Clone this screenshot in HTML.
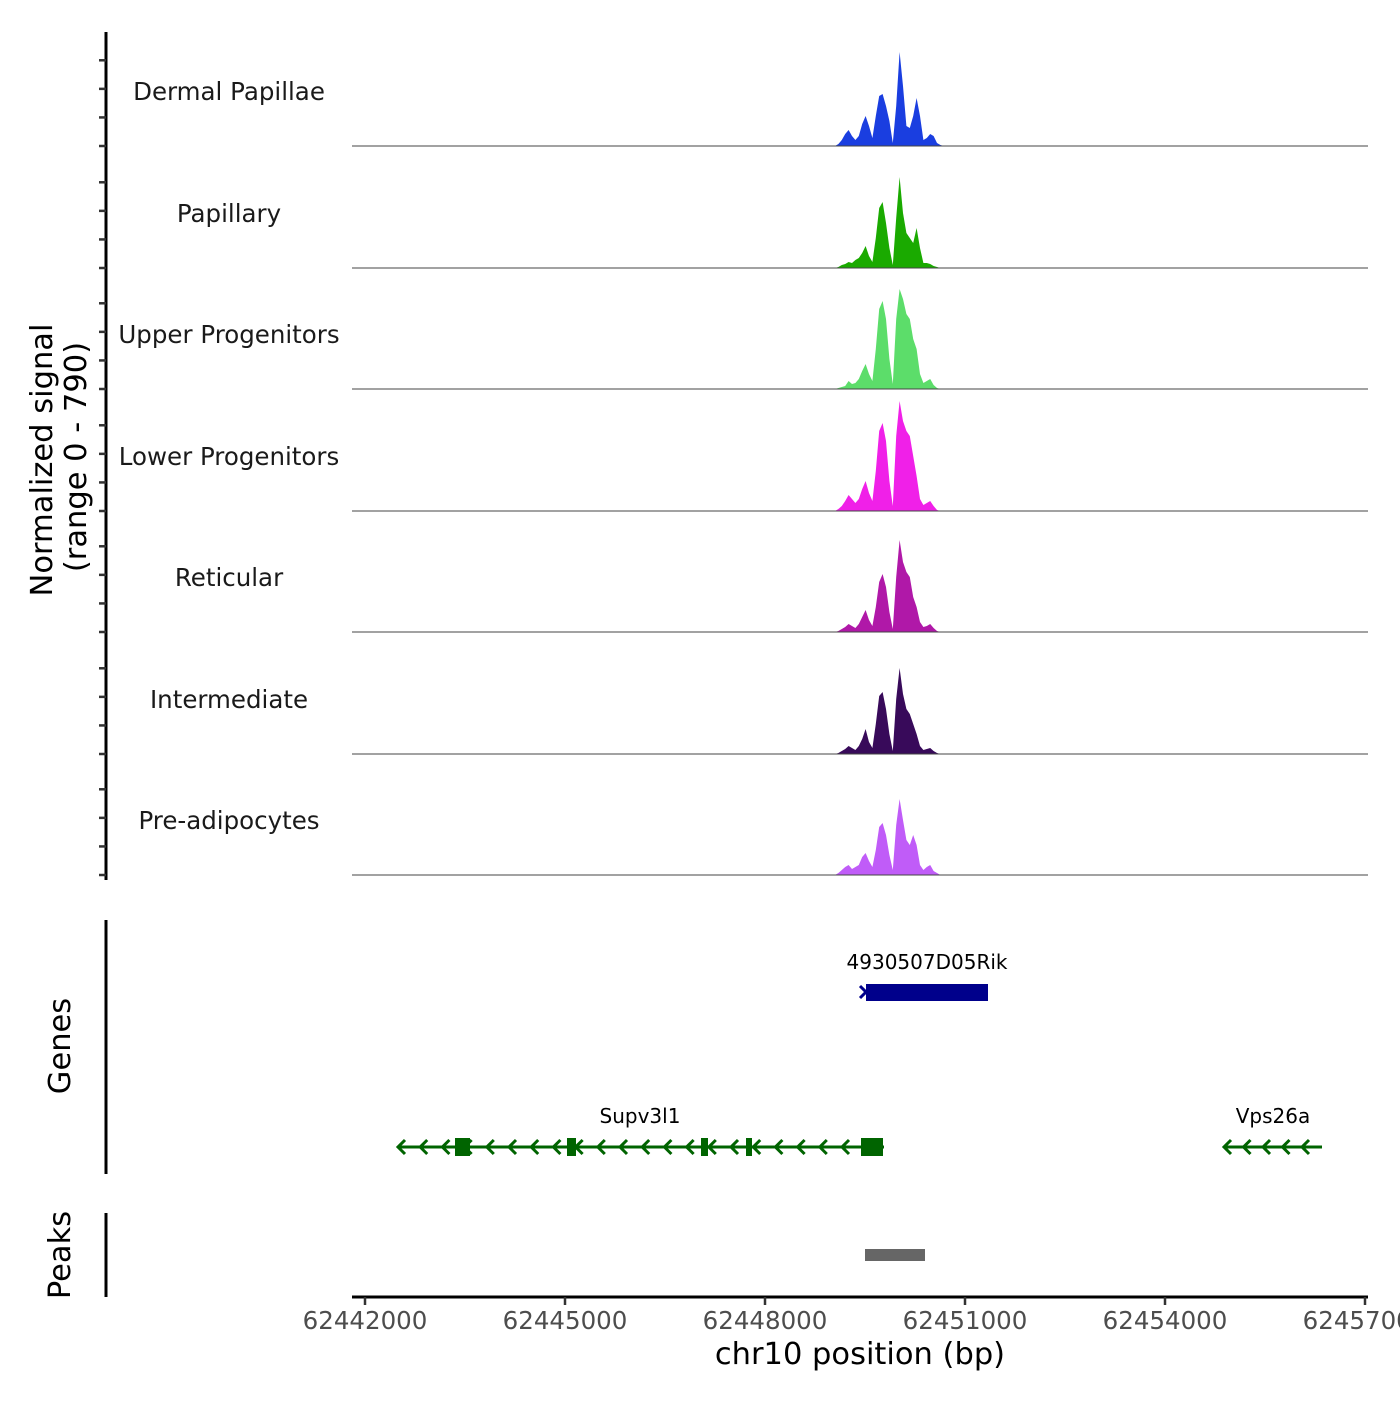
<!DOCTYPE html>
<html><head><meta charset="utf-8"><style>
body{margin:0;background:#fff}
svg text{font-family:"DejaVu Sans","Liberation Sans",sans-serif}
</style></head><body>
<svg id="chart" width="1400" height="1400" xmlns="http://www.w3.org/2000/svg"></svg>
<script>
const trackNames=["Dermal Papillae","Papillary","Upper Progenitors","Lower Progenitors","Reticular","Intermediate","Pre-adipocytes"];
const trackColors=["#1a3ee0","#1aaa00","#5cdd6a","#f020e8","#b018a8","#380a5a","#c05cf8"];
const sampleStart=62449050;
const sampleStep=51;
const sig1=[0,14,42,84,112,70,42,70,154,210,140,56,210,350,364,280,175,21,280,658,420,140,126,210,336,210,42,56,84,70,21,7,0];
const sig2=[0,7,21,28,42,35,56,70,105,154,84,42,210,420,462,315,140,21,350,637,385,245,210,175,280,140,35,35,28,14,7,0,0];
const sig3=[0,7,14,21,56,35,42,70,126,175,105,56,280,560,616,490,210,35,490,700,630,525,490,350,280,105,42,56,70,28,7,0,0];
const sig4=[0,14,35,70,112,84,56,84,154,210,126,70,280,560,616,490,210,35,525,770,630,560,525,385,245,84,42,56,70,35,7,0,0];
const sig5=[0,7,21,35,56,42,28,56,105,154,84,42,175,350,406,315,140,21,385,644,490,420,385,245,175,70,35,42,56,28,7,0,0];
const sig6=[0,7,21,35,56,42,28,56,105,175,84,42,210,406,434,315,140,21,385,602,420,315,280,210,140,56,28,35,42,21,7,0,0];
const sig7=[0,14,35,56,70,42,56,70,126,154,98,56,175,336,364,280,140,35,350,532,385,245,210,280,210,70,35,56,70,28,14,0,0];
const signals=[sig1,sig2,sig3,sig4,sig5,sig6,sig7];
const xTicks=[62442000,62445000,62448000,62451000,62454000,62457000];
const yTicks=[0,200,400,600];

const NS="http://www.w3.org/2000/svg";
const svg=document.getElementById("chart");
function el(t,a,txt){const e=document.createElementNS(NS,t);for(const k in a)e.setAttribute(k,a[k]);if(txt!==undefined)e.textContent=txt;svg.appendChild(e);return e;}
const X0=352,X1=1368,D0=62441805,D1=62457045;
function xs(bp){return X0+(bp-D0)*(X1-X0)/(D1-D0);}
const baselines=[146,268,389,511,632,754,875];
function ys(v,b){return b-v/7;}

let e=el("line",{x1:106,y1:32,x2:106,y2:880,stroke:"#000","stroke-width":3});

baselines.forEach((b,ti)=>{
  yTicks.forEach(t=>{
    const y=ys(t,b);
    let k=el("line",{x1:99,y1:y,x2:106,y2:y,stroke:"#333","stroke-width":2.5});
    
  });
  const s=signals[ti];
  let d="M"+xs(sampleStart)+","+b;
  s.forEach((v,i)=>{d+=" L"+xs(sampleStart+i*sampleStep).toFixed(1)+","+ys(v,b).toFixed(1);});
  d+=" L"+xs(sampleStart+(s.length-1)*sampleStep).toFixed(1)+","+b+" Z";
  let p=el("path",{d:d,fill:trackColors[ti]});
  
  let bl=el("line",{x1:X0,y1:b,x2:X1,y2:b,stroke:"#444","stroke-width":1});
  
  let lb=el("text",{x:229,y:b-46,"text-anchor":"middle","font-size":24.5,fill:"#1a1a1a"},trackNames[ti]);
  
});
e=el("text",{transform:"translate(52,460) rotate(-90)","text-anchor":"middle","font-size":30.5,fill:"#000"},"Normalized signal");

e=el("text",{transform:"translate(86,457) rotate(-90)","text-anchor":"middle","font-size":30.5,fill:"#000"},"(range 0 - 790)");


e=el("line",{x1:106,y1:920,x2:106,y2:1174,stroke:"#000","stroke-width":3});

e=el("text",{transform:"translate(70,1046) rotate(-90)","text-anchor":"middle","font-size":30.5},"Genes");

e=el("rect",{x:866,y:984,width:122,height:17,fill:"#00008b"});

e=el("path",{d:"M860,986 L866,992 L860,998",stroke:"#00008b","stroke-width":3,fill:"none"});

e=el("text",{x:927,y:969,"text-anchor":"middle","font-size":20},"4930507D05Rik");


const G="#006400";
function chevrons(x0,x1,step,name){
  for(let x=x0;x<=x1;x+=step){
    let c=el("path",{d:`M${x+7},1140 L${x},1147 L${x+7},1154`,stroke:G,"stroke-width":3,fill:"none"});
    
  }
}
e=el("line",{x1:398,y1:1147,x2:884,y2:1147,stroke:G,"stroke-width":3});

chevrons(398,870,22.2,'strand-arrow');
[[455,470],[567,576],[701,708],[746,752],[861,883]].forEach(r=>{
  let x=el("rect",{x:r[0],y:1138,width:r[1]-r[0],height:18,fill:G});
  
});
e=el("text",{x:640,y:1123,"text-anchor":"middle","font-size":20},"Supv3l1");

e=el("line",{x1:1224,y1:1147,x2:1322,y2:1147,stroke:G,"stroke-width":3});

chevrons(1224,1315,19.5,'strand-arrow');
e=el("text",{x:1273,y:1123,"text-anchor":"middle","font-size":20},"Vps26a");


e=el("line",{x1:106,y1:1213,x2:106,y2:1297,stroke:"#000","stroke-width":3});

e=el("text",{transform:"translate(70,1255) rotate(-90)","text-anchor":"middle","font-size":30.5},"Peaks");

e=el("rect",{x:865,y:1249,width:60,height:12,fill:"#666"});


e=el("line",{x1:X0,y1:1297,x2:X1,y2:1297,stroke:"#000","stroke-width":3});

xTicks.forEach(t=>{
  const x=xs(t);
  let k=el("line",{x1:x,y1:1297,x2:x,y2:1305,stroke:"#333","stroke-width":2.5});
  
  let l=el("text",{x:x,y:1329,"text-anchor":"middle","font-size":24.5,fill:"#4d4d4d"},String(t));
  
});
e=el("text",{x:860,y:1364,"text-anchor":"middle","font-size":30.5},"chr10 position (bp)");

</script>
</body></html>
